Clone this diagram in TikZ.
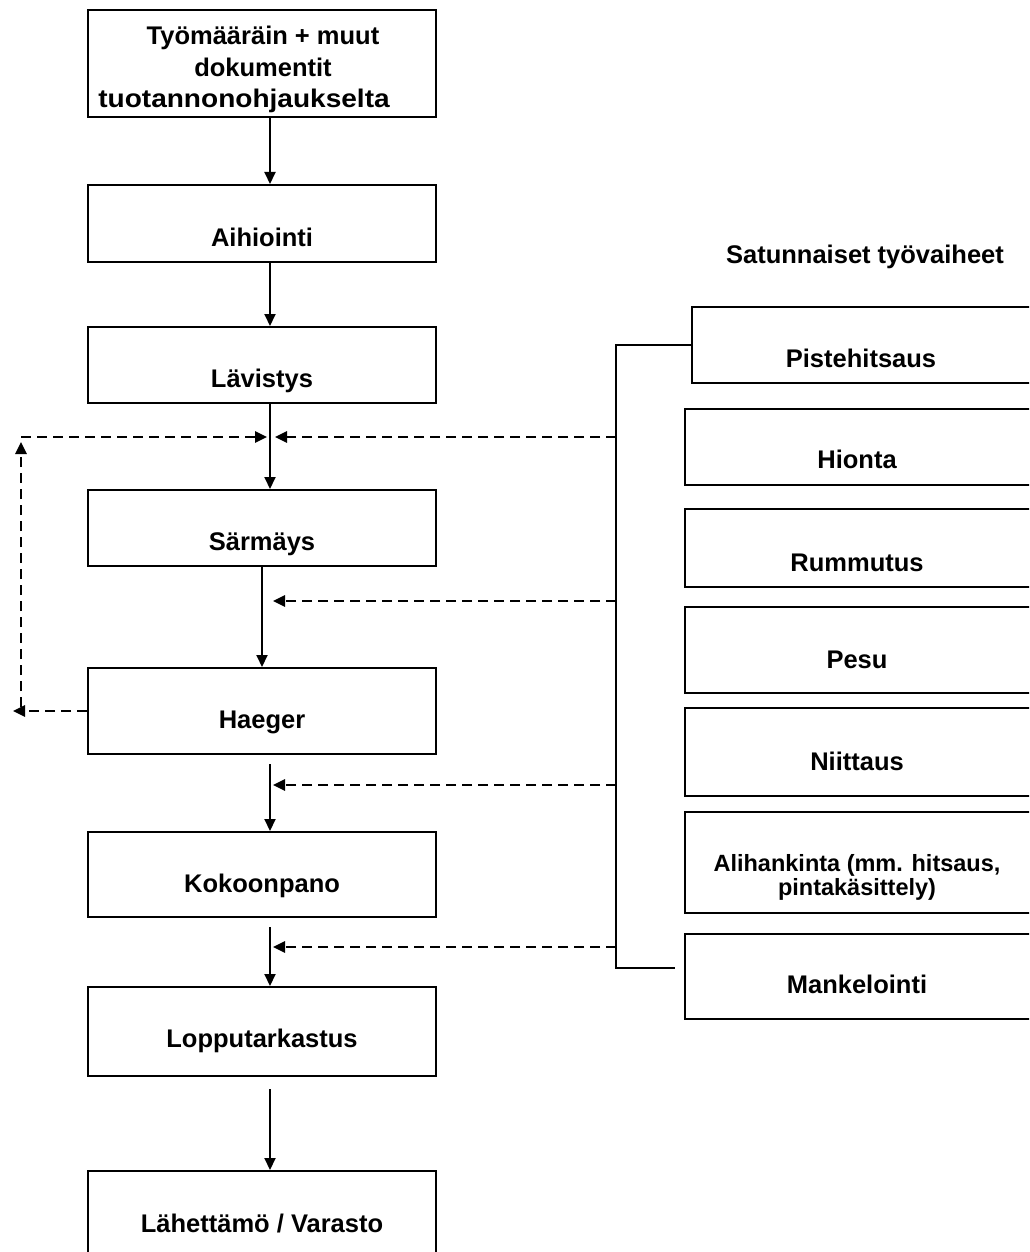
\documentclass[tikz,border=0pt]{standalone}
\usepackage{fontspec}
\setmainfont{Liberation Sans}
\usetikzlibrary{arrows.meta,calc}

\begin{document}
\begin{tikzpicture}[x=1pt,y=-1pt,
  box/.style={draw, line width=2pt, inner sep=0pt},
  lbl/.style={font=\bfseries\fontsize{25.5}{30}\selectfont, anchor=base, inner sep=0pt},
  lblsmall/.style={font=\bfseries\fontsize{23.5}{28}\selectfont, anchor=base, inner sep=0pt},
  flow/.style={line width=2pt, -{Triangle[length=12pt,width=11pt]}},
  opt/.style={line width=2.6pt, dash pattern=on 10pt off 6pt, -{Triangle[length=12pt,width=11pt]}},
  link/.style={line width=2pt}
]
\useasboundingbox (0,0) rectangle (1029,1252);
\fill[white] (0,0) rectangle (1029,1252);
\clip (0,0) rectangle (1029,1252);

% main production flow
\node[box, minimum width=348pt, minimum height=107pt] (tyo) at (262,63.5) {};
\node[box, minimum width=348pt, minimum height=77pt]  (aih) at (262,223.5) {};
\node[box, minimum width=348pt, minimum height=76pt]  (lav) at (262,365) {};
\node[box, minimum width=348pt, minimum height=76pt]  (sar) at (262,528) {};
\node[box, minimum width=348pt, minimum height=86pt]  (hae) at (262,711) {};
\node[box, minimum width=348pt, minimum height=85pt]  (kok) at (262,874.5) {};
\node[box, minimum width=348pt, minimum height=89pt]  (lop) at (262,1031.5) {};
\node[box, minimum width=348pt, minimum height=99pt]  (lah) at (262,1220.5) {};

\node[lbl] (tyo1) at (263,45) {Työmääräin + muut};
\node[lbl] (tyo2) at (263,77) {dokumentit};
\node[lbl] (tyo3) at (244,108) {\scalebox{1.1}[1]{tuotannonohjaukselta}};
\node[lbl] (aihT) at (262,246) {Aihiointi};
\node[lbl] (lavT) at (262,387) {Lävistys};
\node[lbl] (sarT) at (262,550) {Särmäys};
\node[lbl] (haeT) at (262,728) {Haeger};
\node[lbl] (kokT) at (262,892) {Kokoonpano};
\node[lbl] (lopT) at (262,1047) {Lopputarkastus};
\node[lbl] (lahT) at (262,1232) {Lähettämö / Varasto};

% optional work phases
\node[lbl] (satT) at (865,263) {Satunnaiset työvaiheet};
\node[box, minimum width=348pt, minimum height=76pt]  (pis) at (866,345) {};
\node[box, minimum width=355pt, minimum height=76pt]  (hio) at (862.5,447) {};
\node[box, minimum width=355pt, minimum height=78pt]  (rum) at (862.5,548) {};
\node[box, minimum width=355pt, minimum height=86pt]  (pes) at (862.5,650) {};
\node[box, minimum width=355pt, minimum height=88pt]  (nii) at (862.5,752) {};
\node[box, minimum width=355pt, minimum height=101pt] (ali) at (862.5,862.5) {};
\node[box, minimum width=355pt, minimum height=85pt]  (man) at (862.5,976.5) {};

\node[lbl] (pisT) at (861,367) {Pistehitsaus};
\node[lbl] (hioT) at (857,468) {Hionta};
\node[lbl] (rumT) at (857,571) {Rummutus};
\node[lbl] (pesT) at (857,668) {Pesu};
\node[lbl] (niiT) at (857,770) {Niittaus};
\node[lblsmall] (aliT1) at (857,871) {Alihankinta (mm. hitsaus,};
\node[lblsmall] (aliT2) at (857,895) {pintakäsittely)};
\node[lbl] (manT) at (857,993) {Mankelointi};

% vertical flow arrows
\coordinate (cx) at (270,0);
\draw[flow] (tyo.south -| cx) -- (aih.north -| cx);
\draw[flow] (aih.south -| cx) -- (lav.north -| cx);
\draw[flow] (lav.south -| cx) -- (sar.north -| cx);
\draw[flow] (sar.south) -- (hae.north);
\draw[flow, shorten <=9pt] (hae.south -| cx) -- (kok.north -| cx);
\draw[flow, shorten <=9pt] (kok.south -| cx) -- (lop.north -| cx);
\draw[flow, shorten <=12pt] (lop.south -| cx) -- (lah.north -| cx);

% bracket gathering the optional phases
\coordinate (brt) at (616,345);
\coordinate (brb) at (616,968);
\coordinate (brend) at (675,968);
\draw[link] (pis.west) -- (brt) -- (brb) -- (brend);

% dashed entries from the optional phases
\coordinate (s1) at (616,437); \coordinate (e1) at (275,437);
\coordinate (s2) at (616,601); \coordinate (e2) at (273,601);
\coordinate (s3) at (616,785); \coordinate (e3) at (273,785);
\coordinate (s4) at (616,947); \coordinate (e4) at (273,947);
\draw[opt] (s1) -- (e1);
\draw[opt] (s2) -- (e2);
\draw[opt] (s3) -- (e3);
\draw[opt] (s4) -- (e4);

% return loop from Haeger back before Särmäys
\coordinate (lpOut) at (13,711);
\coordinate (lpBot) at (21,707);
\coordinate (lpTopTip) at (21,442);
\coordinate (lpTop) at (21,437);
\coordinate (lpIn) at (267,437);
\draw[opt] (hae.west) -- (lpOut);
\draw[opt] (lpBot) -- (lpTopTip);
\draw[opt] (lpTop) -- (lpIn);
\end{tikzpicture}
\end{document}
